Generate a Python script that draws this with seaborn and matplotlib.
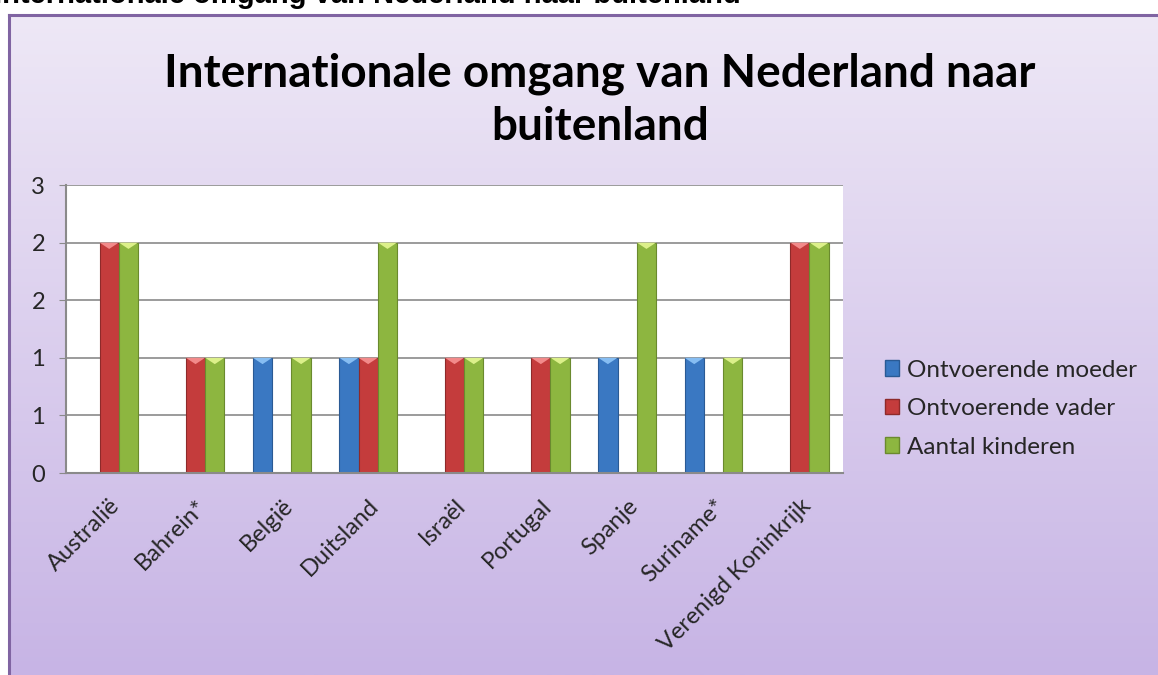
import numpy as np
import pandas as pd
import matplotlib
matplotlib.use("Agg")
import matplotlib.pyplot as plt
from matplotlib.patches import Polygon, Patch
from matplotlib.colors import LinearSegmentedColormap
import seaborn as sns

# ---- data ----
landen = ["Australië", "Bahrein*", "België", "Duitsland", "Israël",
          "Portugal", "Spanje", "Suriname*", "Verenigd Koninkrijk"]
moeder = [0, 0, 1, 1, 0, 0, 1, 1, 0]
vader = [2, 1, 0, 1, 1, 1, 0, 0, 2]
kinderen = [2, 1, 1, 2, 1, 1, 2, 1, 2]
reeksen = ["Ontvoerende moeder", "Ontvoerende vader", "Aantal kinderen"]
y_ticks = [0, 0.5, 1, 1.5, 2, 2.5]
y_labels = ["0", "1", "1", "2", "2", "3"]
titel = "Internationale omgang van Nederland naar\nbuitenland"
boven_titel = "Internationale omgang van Nederland naar buitenland"

df = pd.DataFrame({
    "land": landen * 3,
    "reeks": [reeksen[0]] * 9 + [reeksen[1]] * 9 + [reeksen[2]] * 9,
    "waarde": moeder + vader + kinderen,
})

# ---- style ----
sns.set_style("white")
plt.rcParams["font.family"] = ["Lato", "DejaVu Sans"]

kleuren = ["#3A78C2", "#C43C3C", "#8DB640"]
randen = ["#2A5A94", "#8E2A2A", "#6A8A2E"]
lichter = ["#86BDF2", "#F28A8A", "#DCF08A"]

W, H = 1158, 675
fig = plt.figure(figsize=(W / 100, H / 100), dpi=100)
fig.patch.set_facecolor("white")

# frame with gradient background
bg = fig.add_axes([9 / W, 0, 1 - 9 / W, (H - 15) / H])
grad = np.linspace(0, 1, 256).reshape(-1, 1)
cmap = LinearSegmentedColormap.from_list("g", ["#EEE8F6", "#C7B4E5"])
bg.imshow(grad, aspect="auto", cmap=cmap, extent=[0, 1, 0, 1], origin="upper")
bg.set_xticks([]); bg.set_yticks([])
for s in ["right", "bottom"]:
    bg.spines[s].set_visible(False)
for s in ["left", "top"]:
    bg.spines[s].set_color("#8064A2")
    bg.spines[s].set_linewidth(2.2)

# clipped page heading above the frame
fig.text(-6 / W, 1 - 3 / H, boven_titel, family=["Liberation Sans", "DejaVu Sans"],
         fontweight="bold", fontsize=21, va="baseline", ha="left", color="black")

# main plot
ax = fig.add_axes([66 / W, (H - 473) / H, (843 - 66) / W, (473 - 185) / H])
ax.set_facecolor("white")
sns.barplot(data=df, x="land", y="waarde", hue="reeks", hue_order=reeksen,
            palette=kleuren, saturation=1, width=0.67, ax=ax, legend=False,
            errorbar=None)

ax.set_ylim(0, 2.5)
ax.set_yticks(y_ticks)
ax.set_yticklabels(y_labels, fontsize=17)
ax.yaxis.grid(True, color="#8A8A8A", linewidth=1.2)
ax.set_axisbelow(True)
ax.set_xlabel("")
ax.set_ylabel("")
for s in ["top", "right"]:
    ax.spines[s].set_visible(False)
for s in ["left", "bottom"]:
    ax.spines[s].set_color("#8A8A8A")
    ax.spines[s].set_linewidth(1.5)
ax.tick_params(axis="y", length=5, color="#8A8A8A", left=True, pad=10)
ax.tick_params(axis="x", length=0, pad=16)
plt.setp(ax.get_xticklabels(), rotation=45, ha="right", rotation_mode="anchor", fontsize=17)

# 3D-ish bevel on bars
tri_h = 0.055
for cont, kl, rd, li in zip(ax.containers, kleuren, randen, lichter):
    for p in cont.patches:
        p.set_edgecolor(rd)
        p.set_linewidth(0.8)
        h = p.get_height()
        if h <= 0:
            continue
        x0 = p.get_x(); w = p.get_width()
        ax.add_patch(Polygon([(x0, h), (x0 + w, h), (x0 + w / 2, h - tri_h)],
                             closed=True, facecolor=li, edgecolor="none", zorder=3))

# title
fig.text(600 / W, 1 - 140 / H, titel, ha="center", va="baseline", fontsize=33,
         fontweight="bold", color="black", linespacing=1.32)

# legend
handles = [Patch(facecolor=k, edgecolor=r, label=l) for k, r, l in zip(kleuren, randen, reeksen)]
fig.legend(handles=handles, loc="upper left", bbox_to_anchor=(875 / W, 1 - 350 / H),
           frameon=False, fontsize=17.5, handlelength=0.6, handleheight=0.6,
           handletextpad=0.3, labelspacing=0.72, borderaxespad=0)

fig.savefig("out.png", dpi=100)
